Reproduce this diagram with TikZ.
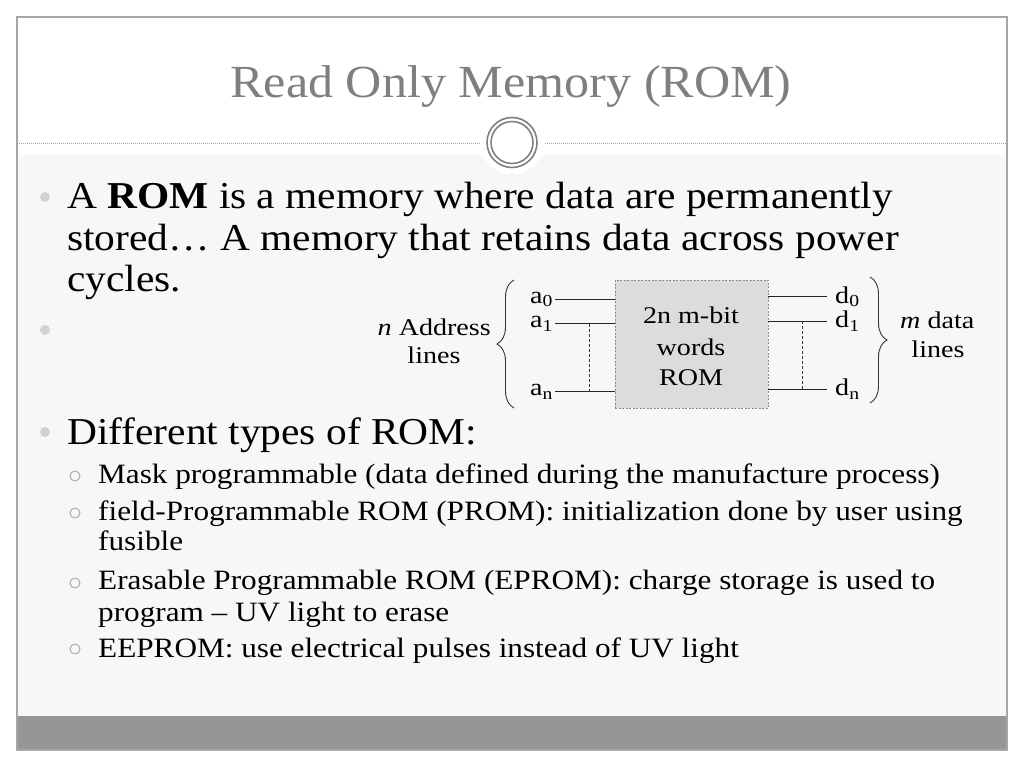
\documentclass[tikz,border=0pt]{standalone}
\usepackage{fontspec}
\setmainfont[FakeStretch=1.09]{Liberation Serif}
\newfontfamily\subfont[FakeStretch=1.115]{Liberation Serif}
\newfontfamily\diagfont[FakeStretch=1.17]{Liberation Serif}
\usetikzlibrary{decorations.pathreplacing}
\definecolor{framegray}{HTML}{A6A6A6}
\definecolor{contentbg}{HTML}{F7F7F7}
\definecolor{footgray}{HTML}{969696}
\definecolor{titlegray}{HTML}{7F7F7F}
\definecolor{boxfill}{HTML}{DCDCDC}
\definecolor{bulletgray}{HTML}{D2D2D2}
\definecolor{ringgray}{HTML}{808080}
\begin{document}
\begin{tikzpicture}[x=1pt,y=-1pt,
  body/.style={anchor=base west, inner sep=0pt, font=\fontsize{38}{42}\selectfont},
  subtxt/.style={anchor=base west, inner sep=0pt, font=\subfont\fontsize{28}{31}\selectfont},
  diag/.style={inner sep=0pt, font=\diagfont\fontsize{24}{28}\selectfont},
  bulletdot/.style={circle, fill=bulletgray, inner sep=0pt, minimum size=10pt},
  ringbullet/.style={circle, draw=framegray, line width=0.9pt, inner sep=0pt, minimum size=10pt},
  wire/.style={line width=0.9pt, draw=black!85},
  vdash/.style={line width=0.9pt, draw=black!80, dash pattern=on 3pt off 2pt},
  bracestyle/.style={decorate, decoration={brace, amplitude=17pt}, line width=0.9pt, draw=black!80}
]
\useasboundingbox (0,0) rectangle (1024,768);
\fill[white] (0,0) rectangle (1024,768);
\fill[contentbg] (17,155) rectangle (1007,716);
\fill[footgray] (17,716) rectangle (1007,750);
\draw[framegray, line width=1.2pt] (17,17) rectangle (1007,750);
% separator and ornament
\coordinate (sepL) at (17,143);
\coordinate (sepR) at (1007,143);
\draw[framegray, line width=1pt, dash pattern=on 1.2pt off 0.8pt] (sepL) -- (sepR);
\fill[white] (512,142.5) circle (32);
\node[circle, draw=ringgray, line width=1.6pt, minimum size=50pt, inner sep=0pt] (ornout) at (512,142.5) {};
\node[circle, draw=ringgray, line width=1.6pt, minimum size=42pt, inner sep=0pt] (ornin) at (512,142.5) {};
% title
\node[anchor=base, inner sep=0pt, font=\fontsize{46}{50}\selectfont, text=titlegray] (title) at (511,97) {Read Only Memory (ROM)};
% body
\node[bulletdot] (bd1) at (45,197) {};
\node[body] (b1a) at (67,208) {A \textbf{ROM} is a memory where data are permanently};
\node[body] (b1b) at (67,250) {stored… A memory that retains data across power};
\node[body] (b1c) at (67,291) {cycles.};
\node[bulletdot] (bd2) at (45,330) {};
\node[bulletdot] (bd3) at (45,432) {};
\node[body] (b3) at (67,444) {Different types of ROM:};
\node[ringbullet] (rb1) at (75,476) {};
\node[subtxt] (s1) at (98,483) {Mask programmable (data defined during the manufacture process)};
\node[ringbullet] (rb2) at (75,513) {};
\node[subtxt] (s2a) at (98,520) {field-Programmable ROM (PROM): initialization done by user using};
\node[subtxt] (s2b) at (98,550) {fusible};
\node[ringbullet] (rb3) at (75,583) {};
\node[subtxt] (s3a) at (98,589) {Erasable Programmable ROM (EPROM): charge storage is used to};
\node[subtxt] (s3b) at (98,621) {program – UV light to erase};
\node[ringbullet] (rb4) at (75,649) {};
\node[subtxt] (s4) at (98,657) {EEPROM: use electrical pulses instead of UV light};
% diagram
\node[draw=black!45, dash pattern=on 2pt off 1.5pt, line width=0.7pt, fill=boxfill, minimum width=153pt, minimum height=128pt, inner sep=0pt] (rom) at (691.5,344) {};
\node[diag, anchor=base] (r1) at (691,323) {2n m-bit};
\node[diag, anchor=base] (r2) at (691,355) {words};
\node[diag, anchor=base] (r3) at (691,385) {ROM};
\node[diag, anchor=base west] (a0) at (530,303) {a\textsubscript{0}};
\node[diag, anchor=base west] (a1) at (530,327.7) {a\textsubscript{1}};
\node[diag, anchor=base west] (an) at (530,395.7) {a\textsubscript{n}};
\node[diag, anchor=base west] (d0) at (835,303) {d\textsubscript{0}};
\node[diag, anchor=base west] (d1) at (835,327.7) {d\textsubscript{1}};
\node[diag, anchor=base west] (dn) at (835,395.7) {d\textsubscript{n}};
\draw[wire] ([xshift=2pt]a0.east) -- (rom.west |- a0.east);
\draw[wire] ([xshift=2pt]a1.east) -- (rom.west |- a1.east);
\draw[wire] ([xshift=2pt]an.east) -- (rom.west |- an.east);
\draw[wire] (rom.east |- d0.west) -- ([xshift=-8pt]d0.west);
\draw[wire] (rom.east |- d1.west) -- ([xshift=-8pt]d1.west);
\draw[wire] (rom.east |- dn.west) -- ([xshift=-8pt]dn.west);
\coordinate (vl) at (589,0);
\coordinate (vr) at (802,0);
\draw[vdash] (vl |- a1.east) -- (vl |- an.east);
\draw[vdash] (vr |- d1.west) -- (vr |- dn.west);
\coordinate (lbB) at (514,408);
\coordinate (lbT) at (514,280);
\coordinate (rbT) at (870,277);
\coordinate (rbB) at (870,403);
\draw[bracestyle] (lbB) -- (lbT);
\draw[bracestyle] (rbT) -- (rbB);
\node[diag, anchor=base east] (nadd) at (491,335) {\textit{n} Address};
\node[diag, anchor=base] (nlines) at (434,363) {lines};
\node[diag, anchor=base west] (mdata) at (900,328) {\textit{m} data};
\node[diag, anchor=base] (mlines) at (938,357) {lines};
\end{tikzpicture}
\end{document}
